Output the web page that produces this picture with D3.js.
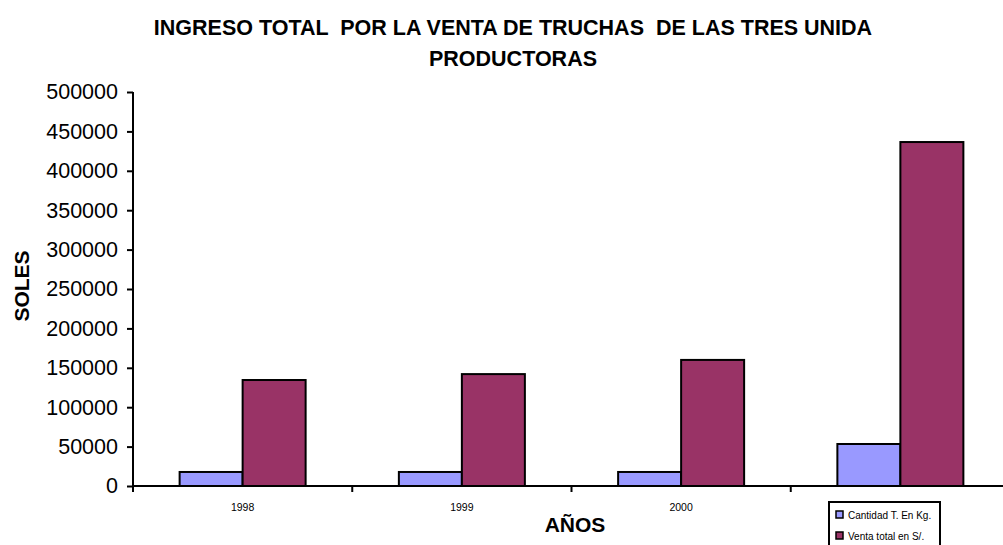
<!DOCTYPE html>
<html><head><meta charset="utf-8">
<script src="https://cdn.jsdelivr.net/npm/d3@7"></script>
<style>
html,body{margin:0;padding:0;background:#fff;overflow:hidden}
text{font-family:"Liberation Sans",Arial,sans-serif}
</style></head>
<body>
<svg id="c" width="1003" height="545"></svg>
<script>
const categories = ["1998","1999","2000",""];
const seriesNames = ["Cantidad T. En Kg.","Venta total en S/."];
const cantidad = [17800, 17800, 17800, 53300];
const venta = [134500, 142000, 160000, 436500];
const yTicks = [0,50000,100000,150000,200000,250000,300000,350000,400000,450000,500000];
const colors = ["#9999FF","#993366"];

(function(){
const svg = d3.select("#c");
const mLeft = 133, mRight = 1010, mTop = 92, mBottom = 486;

const x = d3.scaleBand().domain(categories.map((d,i)=>i)).range([mLeft,mRight]).paddingInner(0).paddingOuter(0);
const xs = d3.scaleBand().domain([0,1]).range([0,x.bandwidth()]).paddingInner(0).paddingOuter(0.74);
const y = d3.scaleLinear().domain([0,500000]).range([mBottom,mTop]);

// title
const title = svg.append("text").attr("text-anchor","middle").attr("font-weight","bold").attr("font-size",21.5).attr("xml:space","preserve");
title.append("tspan").attr("x",513).attr("y",35).text("INGRESO TOTAL  POR LA VENTA DE TRUCHAS  DE LAS TRES UNIDA");
title.append("tspan").attr("x",513).attr("y",66).text("PRODUCTORAS");

// bars
const data = [cantidad, venta];
data.forEach((vals,s)=>{
  svg.append("g").selectAll("rect").data(vals).join("rect")
    .attr("x",(d,i)=>x(i)+xs(s))
    .attr("y",d=>y(d))
    .attr("width",xs.bandwidth())
    .attr("height",d=>mBottom-y(d))
    .attr("fill",colors[s]).attr("stroke","#000").attr("stroke-width",2);
});

// y axis
const ya = svg.append("g").attr("transform",`translate(${mLeft},0)`)
  .call(d3.axisLeft(y).tickValues(yTicks).tickFormat(d3.format("d")).tickSize(6).tickPadding(9));
ya.select(".domain").attr("stroke","#000").attr("stroke-width",2).attr("d",`M0,${mTop}V${mBottom}`);
ya.selectAll(".tick line").attr("stroke","#000").attr("stroke-width",2);
ya.selectAll(".tick text").attr("font-size",21.5).attr("fill","#000").attr("font-family","Liberation Sans, Arial, sans-serif");

// x axis
const xa = svg.append("g").attr("transform",`translate(0,${mBottom})`);
xa.append("line").attr("x1",mLeft).attr("x2",1003).attr("y1",0).attr("y2",0).attr("stroke","#000").attr("stroke-width",2);
xa.selectAll("line.t").data(categories).join("line").attr("class","t")
  .attr("x1",(d,i)=>x(i)).attr("x2",(d,i)=>x(i)).attr("y1",0).attr("y2",6)
  .attr("stroke","#000").attr("stroke-width",2);
xa.selectAll("text.l").data(categories).join("text").attr("class","l")
  .attr("x",(d,i)=>x(i)+x.bandwidth()/2).attr("y",25)
  .attr("text-anchor","middle").attr("font-size",10.5).text(d=>d);

// axis titles
svg.append("text").attr("transform","translate(29,286) rotate(-90)").attr("text-anchor","middle")
  .attr("font-weight","bold").attr("font-size",21).text("SOLES");
svg.append("text").attr("x",575).attr("y",532).attr("text-anchor","middle")
  .attr("font-weight","bold").attr("font-size",21).text("AÑOS");

// legend
const lg = svg.append("g");
lg.append("rect").attr("x",829).attr("y",502).attr("width",111).attr("height",60)
  .attr("fill","#fff").attr("stroke","#000").attr("stroke-width",2);
seriesNames.forEach((n,i)=>{
  const yy = 511 + i*21;
  lg.append("rect").attr("x",836).attr("y",yy).attr("width",7).attr("height",7)
    .attr("fill",colors[i]).attr("stroke","#000").attr("stroke-width",1.5);
  lg.append("text").attr("x",848).attr("y",yy+7.5).attr("font-size",10).text(n);
});
})();
</script>
</body></html>
